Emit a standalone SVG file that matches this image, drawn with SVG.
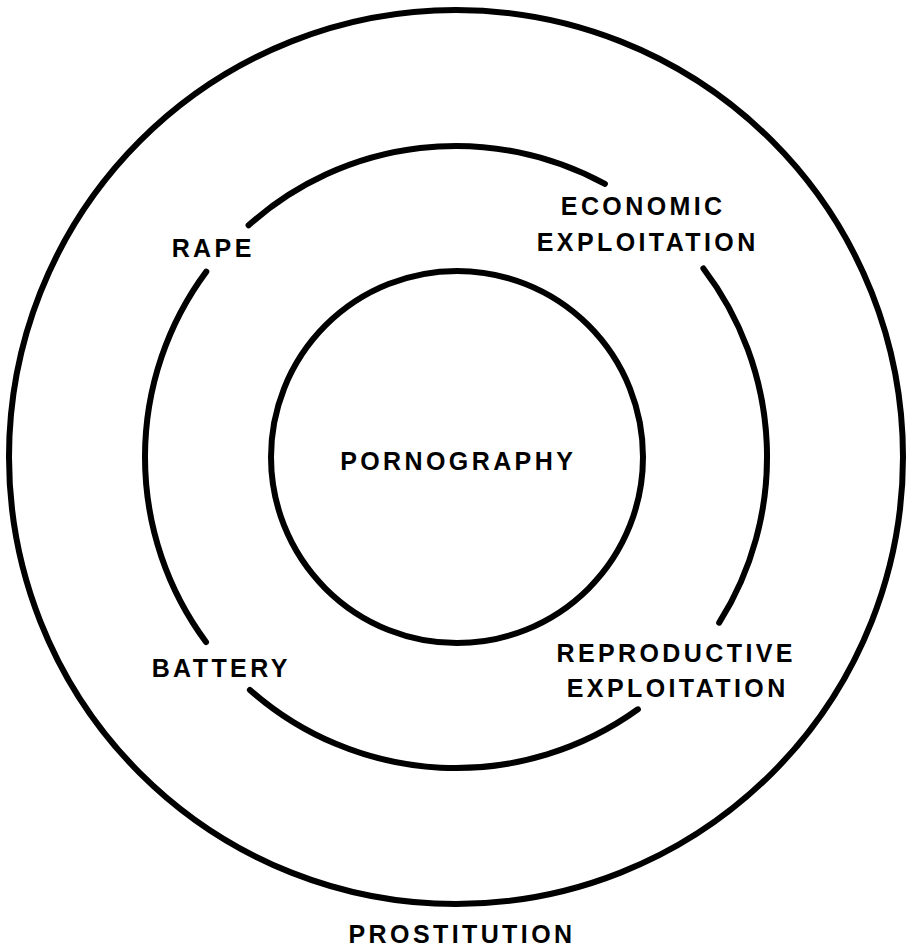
<svg xmlns="http://www.w3.org/2000/svg" width="911" height="950" viewBox="0 0 911 950">
<style>
.ring{fill:none;stroke:#000;stroke-width:6}
.arc{fill:none;stroke:#000;stroke-width:6;stroke-linecap:round}
.lbl{font-family:"Liberation Sans",Arial,sans-serif;font-weight:700;font-size:25px;letter-spacing:3.4px;fill:#000;text-anchor:middle}
</style>
<rect width="911" height="950" fill="#fff"/>
<g id="connectors">
<path class="arc" d="M703.4,268.5 A311,311 0 0 1 719.2,622.7"/>
<path class="arc" d="M637.9,709.3 A311,311 0 0 1 249.9,689.9"/>
<path class="arc" d="M206.0,642.0 A311,311 0 0 1 206.3,271.6"/>
<path class="arc" d="M248.6,225.3 A311,311 0 0 1 604.9,183.9"/>
</g>
<g id="prostitution">
<circle class="ring" cx="456" cy="457" r="447"/>
<text class="lbl" x="462" y="943">PROSTITUTION</text>
</g>
<g id="pornography">
<circle class="ring" cx="457" cy="457" r="186"/>
<text class="lbl" x="458.2" y="470">PORNOGRAPHY</text>
</g>
<g id="rape">
<text class="lbl" x="213.2" y="257">RAPE</text>
</g>
<g id="economic-exploitation">
<text class="lbl" x="643.2" y="215">ECONOMIC</text>
<text class="lbl" x="647.7" y="251">EXPLOITATION</text>
</g>
<g id="battery">
<text class="lbl" x="221.2" y="677">BATTERY</text>
</g>
<g id="reproductive-exploitation">
<text class="lbl" x="676.2" y="662">REPRODUCTIVE</text>
<text class="lbl" x="677.7" y="697">EXPLOITATION</text>
</g>
</svg>
